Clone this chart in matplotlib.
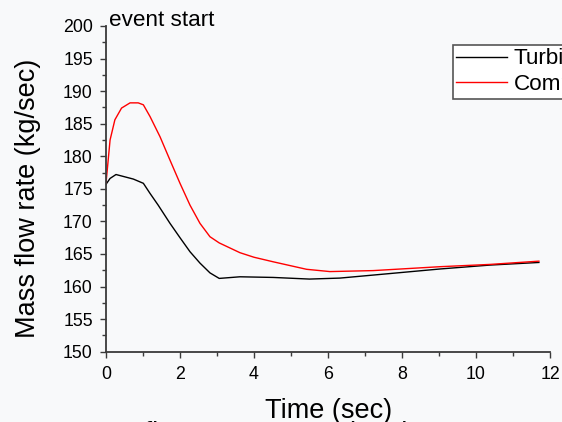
import matplotlib
matplotlib.use("Agg")
import matplotlib.pyplot as plt
from matplotlib.ticker import MultipleLocator

plt.rcParams['font.family'] = ['Liberation Sans', 'DejaVu Sans']

# Data
t_turb = [0.0, 0.11, 0.27, 0.74, 1.01, 1.19, 1.41, 1.73, 2.0, 2.27, 2.54, 2.81,
          3.06, 3.62, 4.52, 5.5, 6.32, 7.68, 9.03, 10.38, 11.7]
m_turb = [175.7, 176.6, 177.2, 176.5, 175.85, 174.3, 172.5, 169.7, 167.5, 165.35,
          163.6, 162.1, 161.25, 161.5, 161.4, 161.15, 161.3, 162.0, 162.7, 163.3, 163.7]

t_comp = [0.0, 0.11, 0.24, 0.42, 0.65, 0.87, 1.01, 1.19, 1.46, 1.73, 2.0, 2.27,
          2.54, 2.81, 3.06, 3.62, 4.0, 4.52, 5.42, 6.05, 7.22, 9.03, 10.38, 11.7]
m_comp = [175.85, 182.5, 185.6, 187.4, 188.2, 188.2, 187.9, 186.1, 183.0, 179.4,
          175.85, 172.5, 169.7, 167.65, 166.7, 165.2, 164.5, 163.8, 162.65, 162.3,
          162.45, 163.05, 163.4, 163.9]

series_labels = ["Turbine", "Compressor"]
x_label = "Time (sec)"
y_label = "Mass flow rate (kg/sec)"
annotation = "event start"
caption = "Mass flow rate versus time in compressor and turbine"

W, H = 562, 422
bg = '#f8f9fa'
fig = plt.figure(figsize=(W / 100, H / 100), dpi=100, facecolor=bg)
ax = fig.add_axes([106 / W, 1 - 351.7 / H, 444 / W, (351.7 - 26) / H])
ax.set_facecolor(bg)

ax.plot(t_turb, m_turb, color='black', lw=1.0, label=series_labels[0])
ax.plot(t_comp, m_comp, color='#ff0000', lw=1.0, label=series_labels[1])

ax.set_xlim(0, 12)
ax.set_ylim(150, 200)
ax.xaxis.set_major_locator(MultipleLocator(2))
ax.xaxis.set_minor_locator(MultipleLocator(1))
ax.yaxis.set_major_locator(MultipleLocator(5))
ax.yaxis.set_minor_locator(MultipleLocator(2.5))

for s in ['top', 'right']:
    ax.spines[s].set_visible(False)
for s in ['left', 'bottom']:
    ax.spines[s].set_color('#3a3a3a')
    ax.spines[s].set_linewidth(1.3)

ax.tick_params(which='major', direction='out', length=4.5, width=1.0,
               color='#3a3a3a', labelsize=12.8, labelcolor='black')
ax.tick_params(which='minor', direction='out', length=3, width=1.0, color='#3a3a3a')
ax.tick_params(axis='y', which='major', pad=5)
ax.tick_params(axis='x', which='major', pad=6)

ax.text(0.07, 200, annotation, fontsize=16.2, ha='left', va='baseline', clip_on=False)

leg = ax.legend(loc='upper left', bbox_to_anchor=(453 / W, 1 - 45 / H),
                bbox_transform=fig.transFigure, fontsize=16.2, frameon=True,
                fancybox=False, framealpha=1, facecolor='white', edgecolor='#555555',
                handlelength=2.27, handletextpad=0.27, borderpad=0.15, labelspacing=0.22,
                borderaxespad=0)
leg.get_frame().set_linewidth(1.2)

fig.text(28 / W, 1 - 198 / H, y_label, rotation=90, ha='center', va='center', fontsize=19.5)
fig.text(329 / W, 1 - 418 / H, x_label, ha='center', va='baseline', fontsize=19.5)
fig.text(72 / W, 1 - 440.8 / H, caption, ha='left', va='baseline', fontsize=19.5)

fig.savefig('out.png', dpi=100, facecolor=bg)
